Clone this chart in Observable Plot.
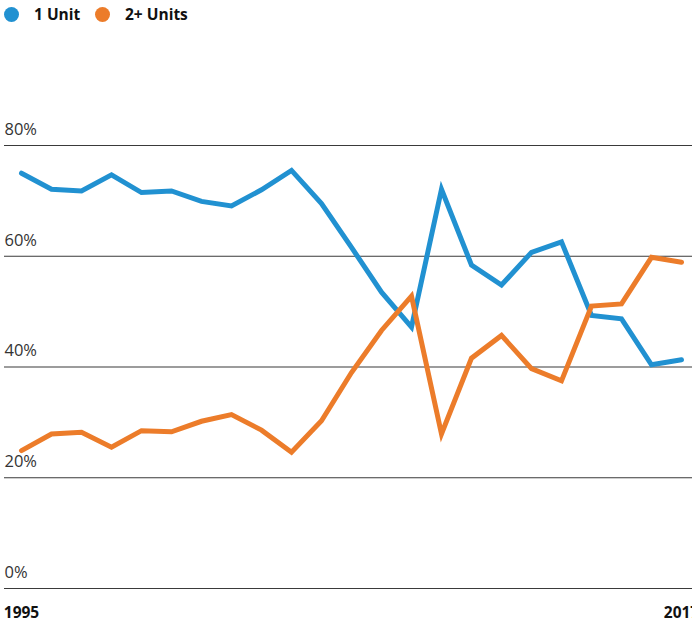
<!DOCTYPE html>
<html>
<head>
<meta charset="utf-8">
<script src="https://cdn.jsdelivr.net/npm/d3@7"></script>
<script src="https://cdn.jsdelivr.net/npm/@observablehq/plot@0.6"></script>
<style>
  html, body { margin: 0; padding: 0; background: #fff; overflow: hidden; width: 692px; height: 628px; }
  #legend { height: 30px; position: relative; font-family: "Open Sans", sans-serif; font-weight: 700; font-size: 15.5px; color: #111; }
  #legend .item { position: absolute; top: 3px; display: flex; align-items: center; }
  #legend .dot { width: 15px; height: 15px; border-radius: 50%; display: inline-block; margin-right: 15px; }
  #chart svg { display: block; overflow: visible; }
</style>
</head>
<body>
<div id="legend"></div>
<div id="chart"></div>
<script>
const years = d3.range(1995, 2018);
const seriesNames = ["1 Unit", "2+ Units"];
const seriesColors = ["#2191d1", "#ec7c2a"];
const oneUnit = [75.0, 72.1, 71.8, 74.7, 71.5, 71.8, 69.9, 69.1, 72.0, 75.5, 69.5, 61.6, 53.5, 47.2, 72.1, 58.4, 54.8, 60.7, 62.6, 49.3, 48.7, 40.4, 41.3];
const twoPlus = [24.9, 27.9, 28.2, 25.5, 28.5, 28.3, 30.2, 31.4, 28.6, 24.6, 30.3, 39.0, 46.6, 52.8, 27.9, 41.6, 45.7, 39.7, 37.5, 51.0, 51.4, 59.8, 58.9];
const yTicks = [0, 20, 40, 60, 80];
const xTicks = [1995, 2017];

const data = [];
years.forEach((yr, i) => {
  data.push({year: yr, value: oneUnit[i], series: seriesNames[0]});
  data.push({year: yr, value: twoPlus[i], series: seriesNames[1]});
});

// legend
const legend = document.getElementById("legend");
const legendX = [4, 95];
seriesNames.forEach((name, i) => {
  const it = document.createElement("div");
  it.className = "item";
  it.style.left = legendX[i] + "px";
  it.innerHTML = `<span class="dot" style="background:${seriesColors[i]}"></span><span>${name}</span>`;
  legend.appendChild(it);
});

const chart = Plot.plot({
  width: 692,
  height: 598,
  marginTop: 115,
  marginBottom: 40,
  marginLeft: 4,
  marginRight: 0,
  style: {fontFamily: "'Open Sans', sans-serif", background: "transparent"},
  x: {domain: [1995, 2017], range: [21, 681], axis: null},
  y: {domain: [0, 80], axis: null},
  color: {domain: seriesNames, range: seriesColors},
  marks: [
    Plot.ruleY(yTicks, {stroke: "#3a3a3a", strokeWidth: 1.2}),
    Plot.text(yTicks, {y: d => d, text: d => d + "%", frameAnchor: "left", textAnchor: "start", dy: -16, fontSize: 16.5, fill: "#333", fontWeight: 400}),
    Plot.line(data, {x: "year", y: "value", z: "series", stroke: "series", strokeWidth: 5, strokeLinejoin: "miter", strokeMiterlimit: 4}),
    Plot.text(xTicks, {x: d => d, text: d => String(d), frameAnchor: "bottom", dy: 29, fontSize: 15.5, fontWeight: 700, fill: "#111"})
  ]
});
document.getElementById("chart").appendChild(chart);
</script>
</body>
</html>
